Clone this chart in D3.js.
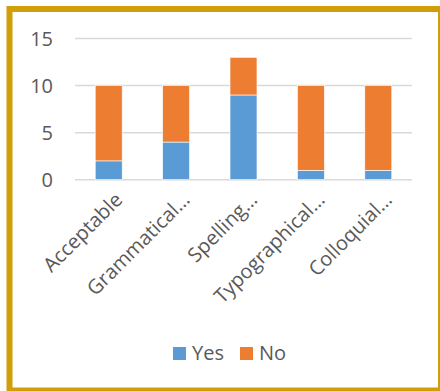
<!DOCTYPE html>
<html>
<head>
<meta charset="utf-8">
<script src="https://cdn.jsdelivr.net/npm/d3@7"></script>
<style>
  html, body { margin: 0; padding: 0; background: #fff; }
  svg { display: block; }
  text { font-family: "Open Sans", sans-serif; fill: #595959; }
</style>
</head>
<body>
<svg id="chart" width="440" height="391"></svg>
<script>
// Categories and stacked series
const categories = ["Acceptable", "Grammatical…", "Spelling…", "Typographical…", "Colloquial…"];
const yesValues = [2, 4, 9, 1, 1];
const noValues = [8, 6, 4, 9, 9];
const seriesNames = ["Yes", "No"];
const seriesColors = ["#5B9BD5", "#ED7D31"];
const yTicks = [0, 5, 10, 15];

const svg = d3.select("#chart");

// Outer frame
svg.append("rect")
  .attr("x", 9.5).attr("y", 9)
  .attr("width", 431.5).attr("height", 381.5)
  .attr("fill", "#fff")
  .attr("stroke", "#D09E08")
  .attr("stroke-width", 6);

const x = d3.scaleBand()
  .domain(categories)
  .range([75, 412])
  .paddingInner(0.6)
  .paddingOuter(0.3);

const y = d3.scaleLinear()
  .domain([0, 15])
  .range([179.7, 38.5]);

// Gridlines
svg.append("g")
  .selectAll("line")
  .data(yTicks)
  .join("line")
  .attr("x1", 75).attr("x2", 412)
  .attr("y1", d => y(d)).attr("y2", d => y(d))
  .attr("stroke", "#D9D9D9")
  .attr("stroke-width", 1.5);

// Y axis labels
const yAxis = d3.axisLeft(y).tickValues(yTicks).tickSize(0).tickPadding(0);
const gy = svg.append("g").attr("transform", "translate(53,0)").call(yAxis);
gy.select(".domain").remove();
gy.selectAll("text")
  .attr("font-size", 20)
  .attr("font-family", "Open Sans, sans-serif")
  .attr("fill", "#595959")
  .attr("dy", "0.35em");

// Stacked bars
const rows = categories.map((c, i) => ({ category: c, Yes: yesValues[i], No: noValues[i] }));
const stack = d3.stack().keys(seriesNames)(rows);

svg.append("g")
  .selectAll("g")
  .data(stack)
  .join("g")
  .attr("fill", (d, i) => seriesColors[i])
  .selectAll("rect")
  .data(d => d)
  .join("rect")
  .attr("x", d => x(d.data.category))
  .attr("width", x.bandwidth())
  .attr("y", d => y(d[1]))
  .attr("height", d => y(d[0]) - y(d[1]))
  .attr("stroke", "#fff")
  .attr("stroke-width", 0.6);

// Rotated category labels
const xAxis = d3.axisBottom(x).tickSize(0).tickPadding(0);
const gx = svg.append("g").attr("transform", "translate(0,0)").call(xAxis);
gx.select(".domain").remove();
gx.selectAll(".tick").attr("transform", d => `translate(${x(d) + x.bandwidth() / 2 + 15},201)`);
gx.selectAll("text")
  .attr("y", 0).attr("dy", 0)
  .attr("font-size", 20)
  .attr("font-family", "Open Sans, sans-serif")
  .attr("fill", "#595959")
  .attr("text-anchor", "end")
  .attr("transform", "rotate(-45)");

// Legend
const legend = svg.append("g");
const legendX = [173, 240];
seriesNames.forEach((name, i) => {
  legend.append("rect")
    .attr("x", legendX[i]).attr("y", 347)
    .attr("width", 13).attr("height", 13)
    .attr("fill", seriesColors[i]);
  legend.append("text")
    .attr("x", legendX[i] + 19).attr("y", 360)
    .attr("font-size", 20)
    .text(name);
});
</script>
</body>
</html>
